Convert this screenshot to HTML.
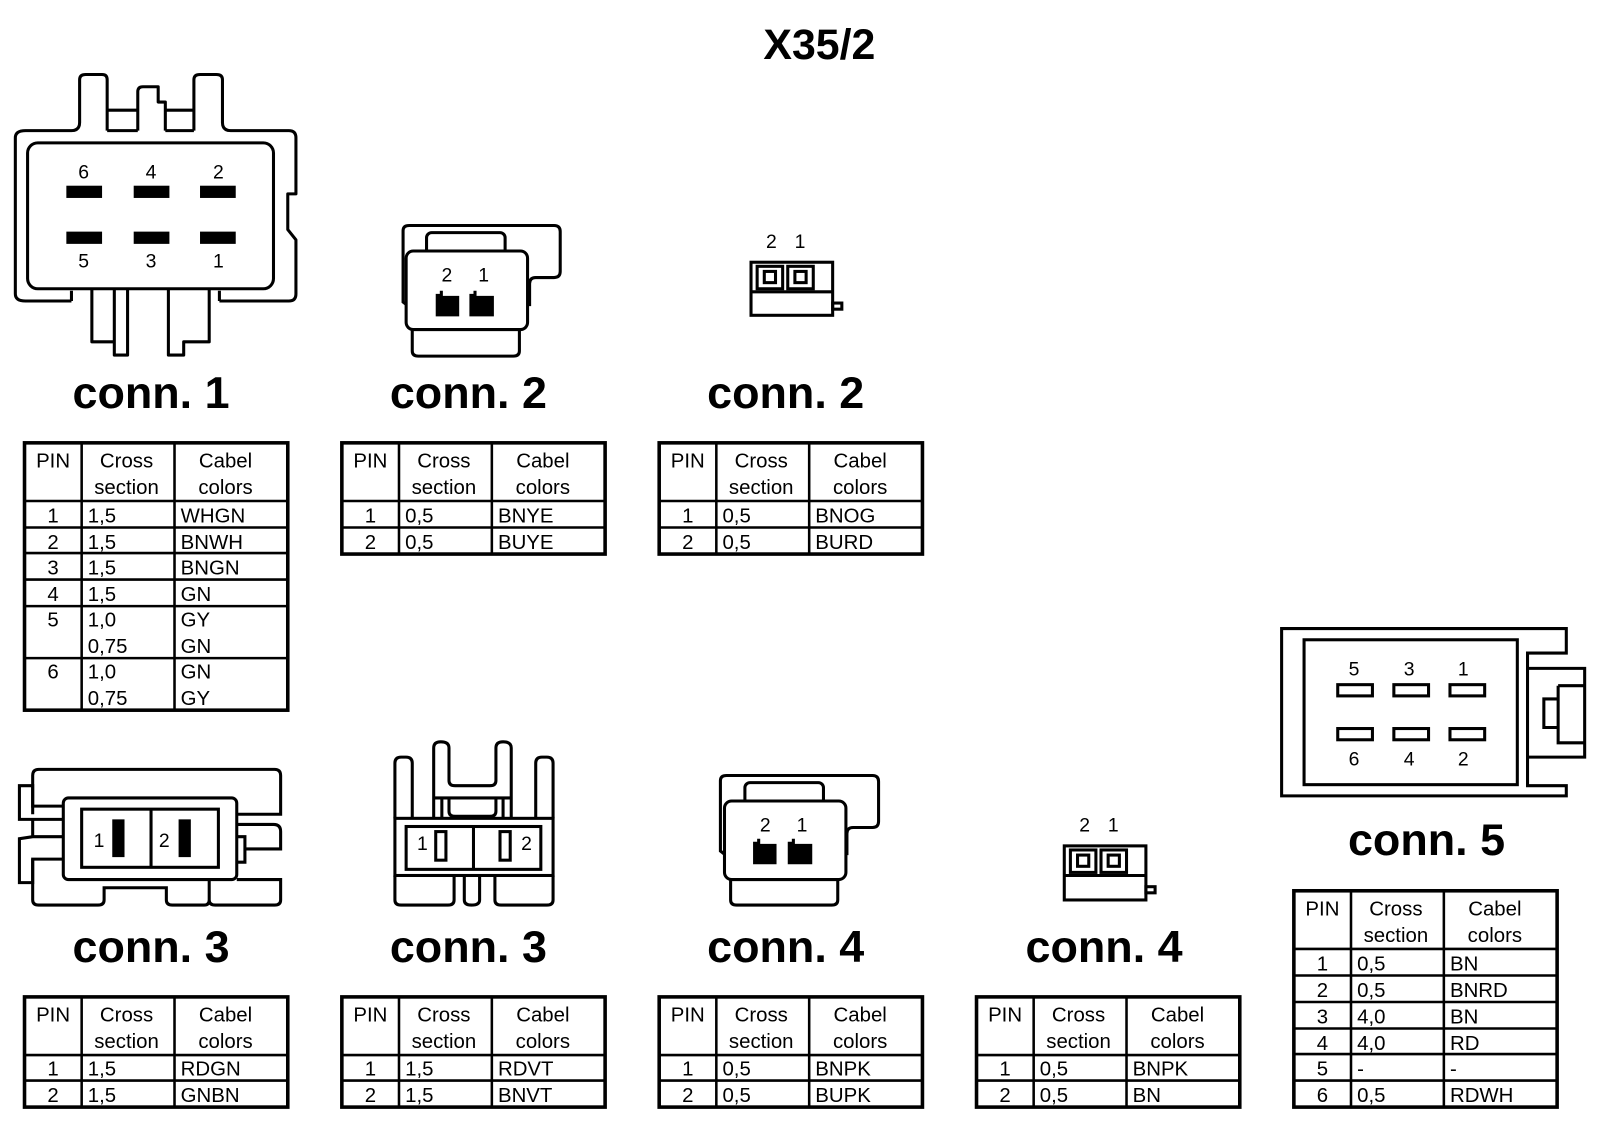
<!DOCTYPE html>
<html><head><meta charset="utf-8"><style>
html,body{margin:0;padding:0;background:#fff;width:1600px;height:1132px;overflow:hidden}
svg{display:block}
text{font-family:"Liberation Sans",Arial,sans-serif;fill:#000}
.t{font-size:20px}
.h{font-size:20px;text-anchor:middle}
.c{text-anchor:middle}
.lbl{font-size:44px;font-weight:bold;text-anchor:middle}
.n{font-size:19px;text-anchor:middle}
.s{fill:none;stroke:#000;stroke-width:3}
.w{fill:#fff}
</style></head><body>
<svg width="1600" height="1132" viewBox="0 0 1568 1109.4" xmlns="http://www.w3.org/2000/svg">
<text x="803" y="58" style="font-size:42px;font-weight:bold" class="c">X35/2</text>

<!-- conn 1 drawing -->
<g class="s" stroke-linejoin="round">
<path d="M25 128 L70 128 Q78 128 78 120 L78 78 Q78 73 84 73 L100 73 Q105 73 105 78 L105 128 M105 128 L135 128 M162 128 L190 128 M135 128 L135 90 Q135 85 140 85 L155 85 L155 100 L162 100 L162 128 M190 128 L190 78 Q190 73 196 73 L212 73 Q218 73 218 78 L218 120 Q218 128 226 128 L283 128 Q290 128 290 135 L290 190 L282 190 L282 225 L290 235 L290 288 Q290 295 283 295 L215 295 M70 295 L25 295 Q15 295 15 288 L15 135 Q15 128 25 128 M105 108 L135 108 M162 108 L190 108"/>
<path d="M90 283 L90 335 L112 335 L112 283 M112 335 L112 348 L125 348 L125 283 M165 283 L165 348 L180 348 L180 335 L205 335 L205 283"/>
<path d="M70 295 L70 285 M215 295 L215 285"/>
<rect x="27" y="140" width="241" height="143" rx="10" class="w"/>
</g>
<g fill="#000">
<rect x="65" y="182" width="35" height="12"/><rect x="131" y="182" width="35" height="12"/><rect x="196" y="182" width="35" height="12"/>
<rect x="65" y="227" width="35" height="12"/><rect x="131" y="227" width="35" height="12"/><rect x="196" y="227" width="35" height="12"/>
</g>
<text class="n" x="82" y="175">6</text><text class="n" x="148" y="175">4</text><text class="n" x="214" y="175">2</text>
<text class="n" x="82" y="262">5</text><text class="n" x="148" y="262">3</text><text class="n" x="214" y="262">1</text>
<text class="lbl" x="148" y="400">conn. 1</text>

<!-- conn 2 a -->
<g class="s">
<path d="M400 300 L395 296 L395 226 Q395 221 401 221 L543 221 Q549 221 549 227 L549 266 Q549 272 543 272 L525 272 Q519 272 519 278 L519 300"/>
<rect x="418" y="228" width="77" height="30" rx="5"/>
<path d="M404 323 L404 344 Q404 349 410 349 L503 349 Q509 349 509 344 L509 323"/>
<rect x="398" y="246" width="119" height="77" rx="7" class="w"/>
</g>
<path d="M427 288 h4 v-3 h3 v5 h16 v20 h-23 Z M460 288 h4 v-3 h3 v5 h17 v20 h-24 Z" fill="#000"/>
<text class="n" x="438" y="276">2</text><text class="n" x="474" y="276">1</text>
<text class="lbl" x="459" y="400">conn. 2</text>

<!-- conn 2 b -->
<text class="n" x="756" y="243">2</text><text class="n" x="784" y="243">1</text>
<g class="s">
<rect x="736" y="257" width="80" height="52"/>
<line x1="736" y1="286" x2="816" y2="286"/>
<rect x="742" y="261" width="25" height="22"/><rect x="772" y="261" width="25" height="22"/>
<rect x="749" y="266" width="11" height="11"/><rect x="779" y="266" width="11" height="11"/>
<rect x="816" y="297" width="9" height="6"/>
</g>
<text class="lbl" x="770" y="400">conn. 2</text>

<!-- conn 3 a -->
<g class="s">
<path d="M32 798 L32 760 Q32 754 38 754 L269 754 Q275 754 275 760 L275 798 L232 798"/>
<path d="M62 790 L32 790 L32 770 L19 770 L19 803 L62 803 M62 820 L32 820 L19 822 L19 865 L32 865 L32 842 L62 842 M32 803 L32 820"/>
<path d="M232 808 L268 808 Q275 808 275 815 L275 832 L240 832 L240 820 L232 820 M240 832 L240 845 L232 845"/>
<path d="M32 842 L32 882 Q32 887 38 887 L96 887 Q102 887 102 882 L102 870 L163 870 L163 882 Q163 887 169 887 L200 887 Q205 887 205 882 L205 862 M205 862 L205 882 Q205 887 211 887 L269 887 Q275 887 275 882 L275 862 L232 862"/>
<rect x="62" y="782" width="170" height="80" rx="5" class="w"/>
<rect x="80" y="793" width="134" height="57"/>
<line x1="148" y1="793" x2="148" y2="850"/>
</g>
<rect x="110" y="803" width="12" height="37" fill="#000"/><rect x="175" y="803" width="12" height="37" fill="#000"/>
<text class="n" x="97" y="830">1</text><text class="n" x="161" y="830">2</text>
<text class="lbl" x="148" y="943">conn. 3</text>

<!-- conn 3 b -->
<g class="s">
<rect x="387" y="802" width="155" height="56"/>
<rect x="398" y="810" width="132" height="42"/>
<line x1="464" y1="810" x2="464" y2="852"/>
<rect x="427" y="815" width="10" height="28"/><rect x="490" y="815" width="10" height="28"/>
<path d="M387 802 L387 748 Q387 742 393 742 L398 742 Q404 742 404 748 L404 802"/>
<path d="M525 802 L525 748 Q525 742 531 742 L536 742 Q542 742 542 748 L542 802"/>
<path d="M425 802 L425 733 Q425 727 432 727 Q440 727 440 733 L440 765 Q440 770 446 770 L480 770 Q486 770 486 765 L486 733 Q486 727 493 727 Q501 727 501 733 L501 802"/>
<path d="M425 782 L501 782 M433 782 L433 802 M493 782 L493 802 M440 782 L440 795 Q440 800 446 800 L480 800 Q486 800 486 795 L486 782"/>
<path d="M387 858 L387 882 Q387 887 393 887 L439 887 Q445 887 445 882 L445 858 M455 858 L455 882 Q455 887 462 887 Q470 887 470 882 L470 858 M485 858 L485 882 Q485 887 491 887 L536 887 Q542 887 542 882 L542 858"/>
</g>
<text class="n" x="414" y="833">1</text><text class="n" x="516" y="833">2</text>
<text class="lbl" x="459" y="943">conn. 3</text>

<!-- conn 4 a -->
<g class="s">
<path d="M711 838 L706 834 L706 765 Q706 760 712 760 L855 760 Q861 760 861 766 L861 805 Q861 811 855 811 L836 811 Q830 811 830 817 L830 838"/>
<rect x="730" y="767" width="77" height="30" rx="5"/>
<path d="M716 862 L716 882 Q716 887 722 887 L815 887 Q821 887 821 882 L821 862"/>
<rect x="710" y="785" width="119" height="77" rx="7" class="w"/>
</g>
<path d="M738 825 h4 v-3 h3 v5 h16 v20 h-23 Z M772 825 h4 v-3 h3 v5 h17 v20 h-24 Z" fill="#000"/>
<text class="n" x="750" y="815">2</text><text class="n" x="786" y="815">1</text>
<text class="lbl" x="770" y="943">conn. 4</text>

<!-- conn 4 b -->
<text class="n" x="1063" y="815">2</text><text class="n" x="1091" y="815">1</text>
<g class="s">
<rect x="1043" y="829" width="80" height="53"/>
<line x1="1043" y1="858" x2="1123" y2="858"/>
<rect x="1049" y="833" width="25" height="22"/><rect x="1079" y="833" width="25" height="22"/>
<rect x="1056" y="838" width="11" height="11"/><rect x="1086" y="838" width="11" height="11"/>
<rect x="1123" y="869" width="9" height="6"/>
</g>
<text class="lbl" x="1082" y="943">conn. 4</text>

<!-- conn 5 -->
<g class="s">
<path d="M1256 616 L1535 616 L1535 640 L1497 640 L1497 770 L1535 770 L1535 780 L1256 780 Z"/>
<rect x="1278" y="627" width="209" height="142"/>
<path d="M1497 655 L1553 655 L1553 742 L1497 742 M1527 672 L1527 728 L1553 728 M1527 672 L1553 672 M1513 685 L1527 685 L1527 713 L1513 713 Z"/>
<rect x="1311" y="671" width="34" height="11"/><rect x="1366" y="671" width="34" height="11"/><rect x="1421" y="671" width="34" height="11"/>
<rect x="1311" y="714" width="34" height="11"/><rect x="1366" y="714" width="34" height="11"/><rect x="1421" y="714" width="34" height="11"/>
</g>
<text class="n" x="1327" y="662">5</text><text class="n" x="1381" y="662">3</text><text class="n" x="1434" y="662">1</text>
<text class="n" x="1327" y="750">6</text><text class="n" x="1381" y="750">4</text><text class="n" x="1434" y="750">2</text>
<text class="lbl" x="1398" y="838">conn. 5</text>

<!-- TABLE 1 -->
<g transform="translate(24,434)">
<rect x="0" y="0" width="258" height="262" fill="none" stroke="#000" stroke-width="3.5"/>
<g stroke="#000" stroke-width="2.5"><line x1="56" y1="0" x2="56" y2="262"/><line x1="147" y1="0" x2="147" y2="262"/>
<line x1="0" y1="57" x2="258" y2="57"/><line x1="0" y1="83" x2="258" y2="83"/><line x1="0" y1="108" x2="258" y2="108"/><line x1="0" y1="134" x2="258" y2="134"/><line x1="0" y1="160" x2="258" y2="160"/><line x1="0" y1="211" x2="258" y2="211"/></g>
<text class="h" x="28" y="24">PIN</text><text class="h" x="100" y="24">Cross</text><text class="h" x="100" y="50">section</text><text class="h" x="197" y="24">Cabel</text><text class="h" x="197" y="50">colors</text>
<text class="h" x="28" y="78">1</text><text class="t" x="62" y="78">1,5</text><text class="t" x="153" y="78">WHGN</text>
<text class="h" x="28" y="104">2</text><text class="t" x="62" y="104">1,5</text><text class="t" x="153" y="104">BNWH</text>
<text class="h" x="28" y="129">3</text><text class="t" x="62" y="129">1,5</text><text class="t" x="153" y="129">BNGN</text>
<text class="h" x="28" y="155">4</text><text class="t" x="62" y="155">1,5</text><text class="t" x="153" y="155">GN</text>
<text class="h" x="28" y="180">5</text><text class="t" x="62" y="180">1,0</text><text class="t" x="153" y="180">GY</text>
<text class="t" x="62" y="206">0,75</text><text class="t" x="153" y="206">GN</text>
<text class="h" x="28" y="231">6</text><text class="t" x="62" y="231">1,0</text><text class="t" x="153" y="231">GN</text>
<text class="t" x="62" y="257">0,75</text><text class="t" x="153" y="257">GY</text>
</g>

<!-- TABLE 2 -->
<g transform="translate(335,434)">
<rect x="0" y="0" width="258" height="109" fill="none" stroke="#000" stroke-width="3.5"/>
<g stroke="#000" stroke-width="2.5"><line x1="56" y1="0" x2="56" y2="109"/><line x1="147" y1="0" x2="147" y2="109"/><line x1="0" y1="57" x2="258" y2="57"/><line x1="0" y1="83" x2="258" y2="83"/></g>
<text class="h" x="28" y="24">PIN</text><text class="h" x="100" y="24">Cross</text><text class="h" x="100" y="50">section</text><text class="h" x="197" y="24">Cabel</text><text class="h" x="197" y="50">colors</text>
<text class="h" x="28" y="78">1</text><text class="t" x="62" y="78">0,5</text><text class="t" x="153" y="78">BNYE</text>
<text class="h" x="28" y="104">2</text><text class="t" x="62" y="104">0,5</text><text class="t" x="153" y="104">BUYE</text>
</g>

<!-- TABLE 2b -->
<g transform="translate(646,434)">
<rect x="0" y="0" width="258" height="109" fill="none" stroke="#000" stroke-width="3.5"/>
<g stroke="#000" stroke-width="2.5"><line x1="56" y1="0" x2="56" y2="109"/><line x1="147" y1="0" x2="147" y2="109"/><line x1="0" y1="57" x2="258" y2="57"/><line x1="0" y1="83" x2="258" y2="83"/></g>
<text class="h" x="28" y="24">PIN</text><text class="h" x="100" y="24">Cross</text><text class="h" x="100" y="50">section</text><text class="h" x="197" y="24">Cabel</text><text class="h" x="197" y="50">colors</text>
<text class="h" x="28" y="78">1</text><text class="t" x="62" y="78">0,5</text><text class="t" x="153" y="78">BNOG</text>
<text class="h" x="28" y="104">2</text><text class="t" x="62" y="104">0,5</text><text class="t" x="153" y="104">BURD</text>
</g>

<!-- TABLE 3a -->
<g transform="translate(24,977)">
<rect x="0" y="0" width="258" height="108" fill="none" stroke="#000" stroke-width="3.5"/>
<g stroke="#000" stroke-width="2.5"><line x1="56" y1="0" x2="56" y2="108"/><line x1="147" y1="0" x2="147" y2="108"/><line x1="0" y1="57" x2="258" y2="57"/><line x1="0" y1="82" x2="258" y2="82"/></g>
<text class="h" x="28" y="24">PIN</text><text class="h" x="100" y="24">Cross</text><text class="h" x="100" y="50">section</text><text class="h" x="197" y="24">Cabel</text><text class="h" x="197" y="50">colors</text>
<text class="h" x="28" y="77">1</text><text class="t" x="62" y="77">1,5</text><text class="t" x="153" y="77">RDGN</text>
<text class="h" x="28" y="103">2</text><text class="t" x="62" y="103">1,5</text><text class="t" x="153" y="103">GNBN</text>
</g>

<!-- TABLE 3b -->
<g transform="translate(335,977)">
<rect x="0" y="0" width="258" height="108" fill="none" stroke="#000" stroke-width="3.5"/>
<g stroke="#000" stroke-width="2.5"><line x1="56" y1="0" x2="56" y2="108"/><line x1="147" y1="0" x2="147" y2="108"/><line x1="0" y1="57" x2="258" y2="57"/><line x1="0" y1="82" x2="258" y2="82"/></g>
<text class="h" x="28" y="24">PIN</text><text class="h" x="100" y="24">Cross</text><text class="h" x="100" y="50">section</text><text class="h" x="197" y="24">Cabel</text><text class="h" x="197" y="50">colors</text>
<text class="h" x="28" y="77">1</text><text class="t" x="62" y="77">1,5</text><text class="t" x="153" y="77">RDVT</text>
<text class="h" x="28" y="103">2</text><text class="t" x="62" y="103">1,5</text><text class="t" x="153" y="103">BNVT</text>
</g>

<!-- TABLE 4a -->
<g transform="translate(646,977)">
<rect x="0" y="0" width="258" height="108" fill="none" stroke="#000" stroke-width="3.5"/>
<g stroke="#000" stroke-width="2.5"><line x1="56" y1="0" x2="56" y2="108"/><line x1="147" y1="0" x2="147" y2="108"/><line x1="0" y1="57" x2="258" y2="57"/><line x1="0" y1="82" x2="258" y2="82"/></g>
<text class="h" x="28" y="24">PIN</text><text class="h" x="100" y="24">Cross</text><text class="h" x="100" y="50">section</text><text class="h" x="197" y="24">Cabel</text><text class="h" x="197" y="50">colors</text>
<text class="h" x="28" y="77">1</text><text class="t" x="62" y="77">0,5</text><text class="t" x="153" y="77">BNPK</text>
<text class="h" x="28" y="103">2</text><text class="t" x="62" y="103">0,5</text><text class="t" x="153" y="103">BUPK</text>
</g>

<!-- TABLE 4b -->
<g transform="translate(957,977)">
<rect x="0" y="0" width="258" height="108" fill="none" stroke="#000" stroke-width="3.5"/>
<g stroke="#000" stroke-width="2.5"><line x1="56" y1="0" x2="56" y2="108"/><line x1="147" y1="0" x2="147" y2="108"/><line x1="0" y1="57" x2="258" y2="57"/><line x1="0" y1="82" x2="258" y2="82"/></g>
<text class="h" x="28" y="24">PIN</text><text class="h" x="100" y="24">Cross</text><text class="h" x="100" y="50">section</text><text class="h" x="197" y="24">Cabel</text><text class="h" x="197" y="50">colors</text>
<text class="h" x="28" y="77">1</text><text class="t" x="62" y="77">0,5</text><text class="t" x="153" y="77">BNPK</text>
<text class="h" x="28" y="103">2</text><text class="t" x="62" y="103">0,5</text><text class="t" x="153" y="103">BN</text>
</g>

<!-- TABLE 5 -->
<g transform="translate(1268,873)">
<rect x="0" y="0" width="258" height="212" fill="none" stroke="#000" stroke-width="3.5"/>
<g stroke="#000" stroke-width="2.5"><line x1="56" y1="0" x2="56" y2="212"/><line x1="147" y1="0" x2="147" y2="212"/>
<line x1="0" y1="57" x2="258" y2="57"/><line x1="0" y1="83" x2="258" y2="83"/><line x1="0" y1="109" x2="258" y2="109"/><line x1="0" y1="135" x2="258" y2="135"/><line x1="0" y1="160" x2="258" y2="160"/><line x1="0" y1="186" x2="258" y2="186"/></g>
<text class="h" x="28" y="24">PIN</text><text class="h" x="100" y="24">Cross</text><text class="h" x="100" y="50">section</text><text class="h" x="197" y="24">Cabel</text><text class="h" x="197" y="50">colors</text>
<text class="h" x="28" y="78">1</text><text class="t" x="62" y="78">0,5</text><text class="t" x="153" y="78">BN</text>
<text class="h" x="28" y="104">2</text><text class="t" x="62" y="104">0,5</text><text class="t" x="153" y="104">BNRD</text>
<text class="h" x="28" y="130">3</text><text class="t" x="62" y="130">4,0</text><text class="t" x="153" y="130">BN</text>
<text class="h" x="28" y="156">4</text><text class="t" x="62" y="156">4,0</text><text class="t" x="153" y="156">RD</text>
<text class="h" x="28" y="181">5</text><text class="t" x="62" y="181">-</text><text class="t" x="153" y="181">-</text>
<text class="h" x="28" y="207">6</text><text class="t" x="62" y="207">0,5</text><text class="t" x="153" y="207">RDWH</text>
</g>
</svg>
</body></html>
